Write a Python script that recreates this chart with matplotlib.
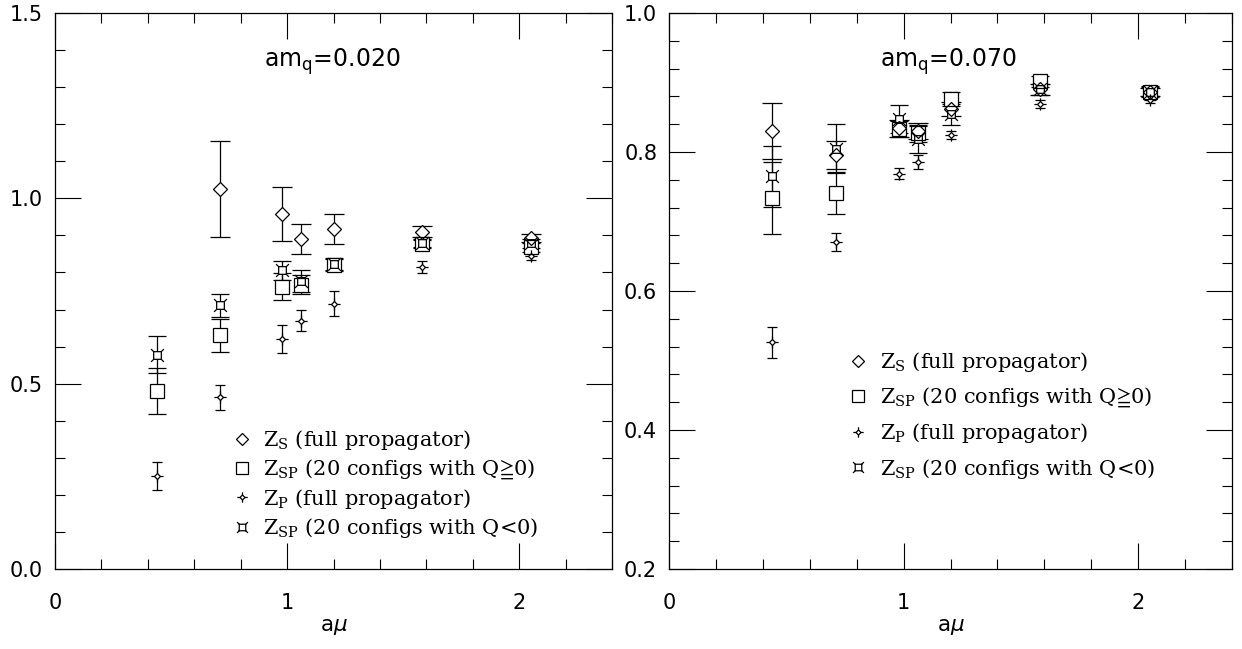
import matplotlib
matplotlib.use("Agg")
import matplotlib.pyplot as plt
from matplotlib.path import Path
from matplotlib.lines import Line2D
from matplotlib.ticker import MultipleLocator, FormatStrFormatter
from matplotlib.font_manager import FontProperties

# ---------------- data ----------------
amu = [0.44, 0.71, 0.98, 1.06, 1.20, 1.58, 2.05]

# am_q = 0.020 (left)
L_zs_x = [0.71, 0.98, 1.06, 1.20, 1.58, 2.05]
L_zs = [1.026, 0.957, 0.890, 0.918, 0.910, 0.893]
L_zs_err = [0.130, 0.073, 0.040, 0.041, 0.015, 0.010]
L_sp_pos = [0.481, 0.630, 0.762, 0.767, 0.820, 0.877, 0.868]
L_sp_pos_err = [0.062, 0.045, 0.036, 0.025, 0.015, 0.010, 0.012]
L_zp = [0.251, 0.463, 0.620, 0.670, 0.716, 0.815, 0.845]
L_zp_err = [0.037, 0.034, 0.038, 0.028, 0.034, 0.016, 0.012]
L_sp_neg = [0.578, 0.711, 0.806, 0.778, 0.823, 0.879, 0.879]
L_sp_neg_err = [0.050, 0.030, 0.025, 0.030, 0.015, 0.010, 0.012]

# am_q = 0.070 (right)
R_zs = [0.830, 0.796, 0.834, 0.830, 0.862, 0.890, 0.886]
R_zs_err = [0.040, 0.020, 0.012, 0.012, 0.010, 0.008, 0.006]
R_sp_pos = [0.734, 0.741, 0.833, 0.827, 0.876, 0.902, 0.887]
R_sp_pos_err = [0.052, 0.030, 0.012, 0.012, 0.010, 0.008, 0.006]
R_zp = [0.526, 0.670, 0.769, 0.786, 0.824, 0.869, 0.875]
R_zp_err = [0.022, 0.013, 0.008, 0.010, 0.006, 0.006, 0.005]
R_sp_neg = [0.765, 0.805, 0.848, 0.818, 0.854, 0.890, 0.887]
R_sp_neg_err = [0.044, 0.035, 0.020, 0.020, 0.015, 0.008, 0.008]

labels = [r"Z$_\mathrm{S}$ (full propagator)",
          r"Z$_\mathrm{SP}$ (20 configs with Q$≧$0)",
          r"Z$_\mathrm{P}$ (full propagator)",
          r"Z$_\mathrm{SP}$ (20 configs with Q<0)"]
titles = [r"am$_\mathrm{q}$=0.020", r"am$_\mathrm{q}$=0.070"]

# ---------------- custom markers ----------------
s = 0.30
qneg_path = Path(
    [(-s, -s), (s, -s), (s, s), (-s, s), (-s, -s),
     (s, s), (0.5, 0.5), (-s, s), (-0.5, 0.5),
     (-s, -s), (-0.5, -0.5), (s, -s), (0.5, -0.5)],
    [Path.MOVETO, Path.LINETO, Path.LINETO, Path.LINETO, Path.CLOSEPOLY,
     Path.MOVETO, Path.LINETO, Path.MOVETO, Path.LINETO,
     Path.MOVETO, Path.LINETO, Path.MOVETO, Path.LINETO])
d = 0.24
zp_path = Path(
    [(d, 0), (0, d), (-d, 0), (0, -d), (d, 0),
     (d, 0), (0.5, 0), (-d, 0), (-0.5, 0),
     (0, d), (0, 0.5), (0, -d), (0, -0.5)],
    [Path.MOVETO, Path.LINETO, Path.LINETO, Path.LINETO, Path.CLOSEPOLY,
     Path.MOVETO, Path.LINETO, Path.MOVETO, Path.LINETO,
     Path.MOVETO, Path.LINETO, Path.MOVETO, Path.LINETO])

styles = [dict(marker="D", ms=6.8, cap=7.0),
          dict(marker="s", ms=9.4, cap=6.5),
          dict(marker=zp_path, ms=8.8, cap=3.8),
          dict(marker=qneg_path, ms=9.2, cap=6.5)]

W, H = 1242, 649
fig = plt.figure(figsize=(W / 100, H / 100), dpi=100)
bot, top = 569, 13
axL = fig.add_axes([55 / W, (H - bot) / H, 557 / W, (bot - top) / H])
axR = fig.add_axes([669 / W, (H - bot) / H, 563 / W, (bot - top) / H])

legprop = FontProperties(family=["DejaVu Serif", "DejaVu Sans"], size=15,
                         math_fontfamily="dejavuserif")


def draw(ax, series, ylim, major, minor, title, title_y, leg_anchor, leg_space):
    for (xs, ys, es), st in zip(series, styles):
        ax.errorbar(xs, ys, yerr=es, fmt="none", ecolor="black",
                    elinewidth=0.9, capsize=st["cap"], capthick=0.9, zorder=2)
    for (xs, ys, es), st in zip(series, styles):
        ax.plot(xs, ys, ls="none", marker=st["marker"], ms=st["ms"],
                mfc="white", mec="none", zorder=3)
    for (xs, ys, es), st in zip(series, styles):
        ax.plot(xs, ys, ls="none", marker=st["marker"], ms=st["ms"],
                mfc="none", mec="black", mew=0.9, zorder=4)
    ax.set_xlim(0, 2.4)
    ax.set_ylim(*ylim)
    ax.xaxis.set_major_locator(MultipleLocator(1))
    ax.xaxis.set_minor_locator(MultipleLocator(0.2))
    ax.yaxis.set_major_locator(MultipleLocator(major))
    ax.yaxis.set_minor_locator(MultipleLocator(minor))
    ax.xaxis.set_major_formatter(FormatStrFormatter("%d"))
    ax.yaxis.set_major_formatter(FormatStrFormatter("%.1f"))
    ax.tick_params(which="both", direction="in", top=True, right=True,
                   width=0.8, color="black")
    ax.tick_params(which="major", length=18.5)
    ax.tick_params(which="minor", length=7)
    ax.tick_params(axis="y", pad=8.5)
    ax.tick_params(axis="x", pad=17)
    for lab in ax.get_xticklabels() + ax.get_yticklabels():
        lab.set_fontfamily("DejaVu Sans")
        lab.set_fontsize(15)
    for sp in ax.spines.values():
        sp.set_linewidth(0.9)
    ax.set_xlabel(r"a$\mu$", fontsize=15.5, labelpad=3)
    ax.text(0.9, title_y, title, fontsize=17, family="DejaVu Sans",
            ha="left", va="baseline")
    handles = [Line2D([], [], ls="none", marker=st["marker"], ms=st["ms"] * 0.85,
                      mfc="none", mec="black", mew=0.9) for st in styles]
    ax.legend(handles, labels, loc="upper left", bbox_to_anchor=leg_anchor,
              frameon=False, prop=legprop, handlelength=1.0,
              handletextpad=0.55, borderpad=0, borderaxespad=0,
              labelspacing=leg_space)


left_series = [(L_zs_x, L_zs, L_zs_err),
               (amu, L_sp_pos, L_sp_pos_err),
               (amu, L_zp, L_zp_err),
               (amu, L_sp_neg, L_sp_neg_err)]
right_series = [(amu, R_zs, R_zs_err),
                (amu, R_sp_pos, R_sp_pos_err),
                (amu, R_zp, R_zp_err),
                (amu, R_sp_neg, R_sp_neg_err)]

draw(axL, left_series, (0.0, 1.5), 0.5, 0.1, titles[0], 1.355,
     (0.3163, 0.2536), 0.26)
draw(axR, right_series, (0.2, 1.0), 0.2, 0.04, titles[1], 0.9226,
     (0.3172, 0.394), 0.56)

fig.savefig("out.png", dpi=100)
